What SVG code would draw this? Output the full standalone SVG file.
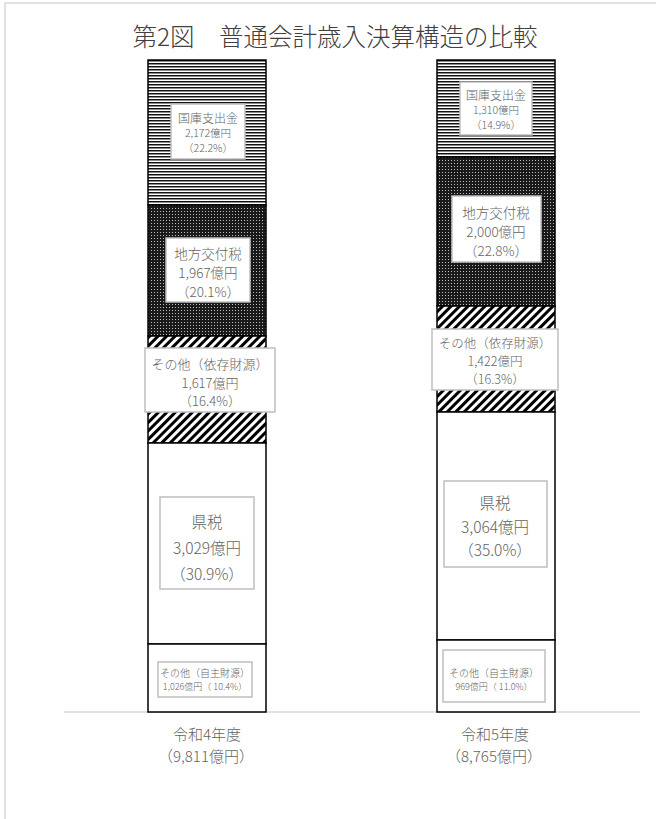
<svg xmlns="http://www.w3.org/2000/svg" width="656" height="819" viewBox="0 0 656 819">
<style>
text{font-family:"Noto Sans CJK JP","Noto Sans",sans-serif;fill:#636363;text-anchor:middle;dominant-baseline:central;font-weight:300}
.seg{stroke:#000;stroke-width:1.5}
.lbl{fill:#fff;stroke:#bfbfbf;stroke-width:1.5}
.frame{stroke:#d9d9d9;stroke-width:1.5;fill:none}
</style>
<defs>
<pattern id="pH" width="4" height="3" patternUnits="userSpaceOnUse">
<rect width="4" height="3" fill="#fff"/>
<rect width="4" height="1" y="0" fill="#111"/>
<rect width="4" height="1" y="1" fill="#8a8a8a"/>
</pattern>
<pattern id="pD" width="3" height="3" patternUnits="userSpaceOnUse">
<rect width="3" height="3" fill="#1a1a1a"/>
<rect x="1" y="1" width="1" height="1" fill="#bbb"/>
</pattern>
<pattern id="pS" width="6" height="6" patternUnits="userSpaceOnUse" patternTransform="rotate(45)">
<rect width="6" height="6" fill="#fff"/>
<rect width="3" height="6" fill="#000"/>
</pattern>
</defs>
<rect width="656" height="819" fill="#fff"/>
<path class="frame" d="M5,819 V3 H656"/>
<text id="title" x="335" y="35" font-size="24.5" style="fill:#404040">第2図　普通会計歳入決算構造の比較</text>
<line x1="64" y1="712" x2="640" y2="712" stroke="#d9d9d9" stroke-width="1.5"/>

<g id="bar-r4">
<rect class="seg" x="148" y="60" width="118" height="145" fill="url(#pH)"/>
<rect class="seg" x="148" y="205" width="118" height="131" fill="url(#pD)"/>
<rect class="seg" x="148" y="336" width="118" height="107" fill="url(#pS)"/>
<rect class="seg" x="148" y="443" width="118" height="201" fill="#fff"/>
<rect class="seg" x="148" y="644" width="118" height="68" fill="#fff"/>
</g>
<g id="bar-r5">
<rect class="seg" x="437" y="60" width="118" height="97" fill="url(#pH)"/>
<rect class="seg" x="437" y="157" width="118" height="149" fill="url(#pD)"/>
<rect class="seg" x="437" y="306" width="118" height="106" fill="url(#pS)"/>
<rect class="seg" x="437" y="412" width="118" height="228" fill="#fff"/>
<rect class="seg" x="437" y="640" width="118" height="72" fill="#fff"/>
</g>

<g id="r4-kokko">
<rect class="lbl" x="171" y="104" width="74" height="55"/>
<text x="208" y="117" font-size="12">国庫支出金</text>
<text x="208" y="132" font-size="10.5">2,172億円</text>
<text x="208" y="147" font-size="10.5">（22.2%）</text>
</g>
<g id="r4-koufu">
<rect class="lbl" x="166" y="238" width="84" height="64"/>
<text x="208" y="253" font-size="13.5">地方交付税</text>
<text x="208" y="272" font-size="13.5">1,967億円</text>
<text x="208" y="291" font-size="13.5">（20.1%）</text>
</g>
<g id="r4-izon">
<rect class="lbl" x="145" y="348" width="130" height="64"/>
<text x="210" y="363" font-size="13">その他（依存財源）</text>
<text x="210" y="382" font-size="13">1,617億円</text>
<text x="210" y="400" font-size="13">（16.4%）</text>
</g>
<g id="r4-kenzei">
<rect class="lbl" x="160" y="497" width="94" height="92"/>
<text x="207" y="521" font-size="15.5">県税</text>
<text x="207" y="547" font-size="15.5">3,029億円</text>
<text x="207" y="573" font-size="15.5">（30.9%）</text>
</g>
<g id="r4-jishu">
<rect class="lbl" x="158" y="662" width="94" height="35"/>
<text x="205" y="672" font-size="10">その他（自主財源）</text>
<text x="205" y="686" font-size="9">1,026億円（ 10.4%）</text>
</g>

<g id="r5-kokko">
<rect class="lbl" x="460" y="82" width="72" height="53"/>
<text x="496" y="94" font-size="12">国庫支出金</text>
<text x="496" y="109" font-size="10.5">1,310億円</text>
<text x="496" y="124" font-size="10.5">（14.9%）</text>
</g>
<g id="r5-koufu">
<rect class="lbl" x="452" y="196" width="89" height="66"/>
<text x="496" y="212" font-size="13.5">地方交付税</text>
<text x="496" y="231" font-size="13.5">2,000億円</text>
<text x="496" y="250" font-size="13.5">（22.8%）</text>
</g>
<g id="r5-izon">
<rect class="lbl" x="432" y="329" width="126" height="61"/>
<text x="495" y="342" font-size="12.5">その他（依存財源）</text>
<text x="495" y="360" font-size="12.5">1,422億円</text>
<text x="495" y="378" font-size="12.5">（16.3%）</text>
</g>
<g id="r5-kenzei">
<rect class="lbl" x="444" y="481" width="103" height="86"/>
<text x="495" y="502" font-size="15.5">県税</text>
<text x="495" y="526" font-size="15.5">3,064億円</text>
<text x="495" y="549" font-size="15.5">（35.0%）</text>
</g>
<g id="r5-jishu">
<rect class="lbl" x="443" y="650" width="102" height="52"/>
<text x="494" y="672" font-size="10">その他（自主財源）</text>
<text x="494" y="686" font-size="9">969億円（ 11.0%）</text>
</g>

<g id="cat-r4">
<text x="207" y="733" font-size="15">令和4年度</text>
<text x="206" y="755" font-size="15">（9,811億円）</text>
</g>
<g id="cat-r5">
<text x="495" y="733" font-size="15">令和5年度</text>
<text x="494" y="755" font-size="15">（8,765億円）</text>
</g>
</svg>
